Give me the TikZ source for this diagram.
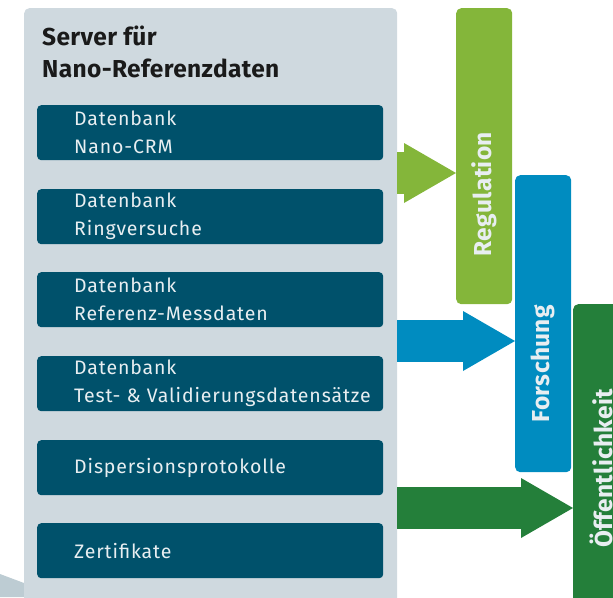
\documentclass[tikz,border=0pt]{standalone}
\usepackage{fontspec}
\setmainfont{Fira Sans}
\usetikzlibrary{arrows.meta, positioning}

\definecolor{panelgrey}{RGB}{207, 217, 223}
\definecolor{shadegrey}{RGB}{189, 204, 211}
\definecolor{dbteal}{RGB}{0, 81, 107}
\definecolor{reggreen}{RGB}{132, 182, 58}
\definecolor{resblue}{RGB}{0, 140, 192}
\definecolor{pubgreen}{RGB}{36, 127, 58}
\definecolor{inkdark}{RGB}{26, 26, 26}
\definecolor{paletext}{RGB}{232, 238, 241}

\tikzset{
  dbbox/.style={fill=dbteal, rounded corners=4pt, minimum width=346pt, minimum height=55pt, anchor=north west, inner sep=0pt},
  dbtext/.style={text=paletext, font=\fontsize{19.5}{28}\selectfont\addfontfeatures{LetterSpace=4.5}, align=left, anchor=west, inner sep=0pt},
  bar/.style={rounded corners=5pt, minimum width=56pt, minimum height=#1, anchor=north west, inner sep=0pt},
  bartext/.style={text=paletext, font=\fontsize{24.5}{28}\selectfont\bfseries\addfontfeatures{LetterSpace=1.5}, rotate=90, anchor=west, inner sep=0pt},
  flow/.style={line width=42pt, draw=#1, -{Triangle[length=52pt, width=60pt, line width=0pt]}},
}

\begin{document}
\begin{tikzpicture}[x=1pt, y=-1pt]
  \path[use as bounding box] (0,0) rectangle (613,597);
  \clip (0,0) rectangle (613,597);

  % shadow wedge at the lower left
  \fill[shadegrey] (0,574) -- (24,583) -- (24,597) -- (0,597) -- cycle;

  % server panel
  \node[fill=panelgrey, rounded corners=5pt, minimum width=373pt, minimum height=610pt, anchor=north west, inner sep=0pt] (server) at (24,8) {};
  \node[text=inkdark, font=\fontsize{24.5}{32}\selectfont\bfseries\addfontfeatures{LetterSpace=1.5}, align=left, anchor=north west, inner sep=0pt] (title) at (42,26) {Server für\\Nano-Referenzdaten};

  % databases
  \node[dbbox] (db1) at (37,105) {};
  \node[dbbox] (db2) at (37,189) {};
  \node[dbbox] (db3) at (37,272) {};
  \node[dbbox] (db4) at (37,356) {};
  \node[dbbox] (db5) at (37,440) {};
  \node[dbbox] (db6) at (37,523) {};
  \node[dbtext] (db1-t) at ([xshift=37pt]db1.west) {Datenbank\\Nano-CRM};
  \node[dbtext] (db2-t) at ([xshift=37pt]db2.west) {Datenbank\\Ringversuche};
  \node[dbtext] (db3-t) at ([xshift=37pt]db3.west) {Datenbank\\Referenz-Messdaten};
  \node[dbtext] (db4-t) at ([xshift=37pt]db4.west) {Datenbank\\Test- \& Validierungsdatensätze};
  \node[dbtext] (db5-t) at ([xshift=37pt]db5.west) {Dispersionsprotokolle};
  \node[dbtext] (db6-t) at ([xshift=37pt]db6.west) {Zertifikate};

  % target groups
  \node[bar=296pt, fill=reggreen] (reg) at (456,8) {};
  \node[bar=297pt, fill=resblue] (res) at (515,175) {};
  \node[bar=310pt, fill=pubgreen] (pub) at (573,304) {};
  \node[bartext] (reg-t) at ([yshift=48pt]reg.south) {Regulation};
  \node[bartext] (res-t) at ([yshift=50pt]res.south) {Forschung};
  \node[bartext] (pub-t) at ([yshift=49pt]pub.south |- 0,597) {Öffentlichkeit};

  % flows
  \coordinate (in-reg) at (0,173);
  \coordinate (in-res) at (0,341);
  \coordinate (in-pub) at (0,508);
  \draw[flow=reggreen] (server.east |- in-reg) -- (reg.west |- in-reg);
  \draw[flow=resblue] (server.east |- in-res) -- (res.west |- in-res);
  \draw[flow=pubgreen] (server.east |- in-pub) -- (pub.west |- in-pub);
\end{tikzpicture}
\end{document}
